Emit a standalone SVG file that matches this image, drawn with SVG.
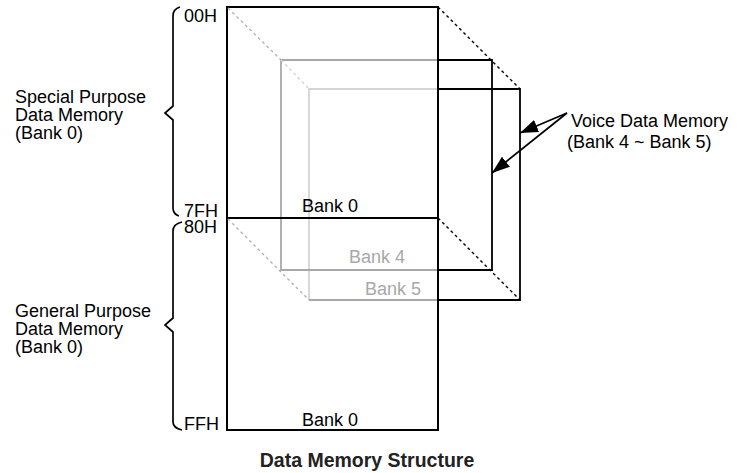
<svg xmlns="http://www.w3.org/2000/svg" width="737" height="473" viewBox="0 0 737 473">
  <style>
    text { font-family: "Liberation Sans", Arial, sans-serif; font-size: 18px; fill: #000; }
    .title { font-weight: bold; font-size: 19.5px; fill: #222; }
    .dim { fill: #a8a8a8; }
    .frame { fill: none; stroke: #000; stroke-width: 2; }
    .blk { fill: none; stroke: #000; stroke-width: 1.8; }
    .g4 { fill: none; stroke: #a8a8a8; stroke-width: 1.8; }
    .g5 { fill: none; stroke: #d4d4d4; stroke-width: 1.8; }
    .dotb { fill: none; stroke: #000; stroke-width: 1.4; stroke-dasharray: 3 3; }
    .dotg { fill: none; stroke: #b4b4b4; stroke-width: 1.4; stroke-dasharray: 3 3; }
    .brace { fill: none; stroke: #000; stroke-width: 1.7; stroke-linejoin: miter; }
    .arrow { fill: none; stroke: #000; stroke-width: 1.7; }
  </style>
  <defs>
    <marker id="head" viewBox="0 0 18 13" refX="18" refY="6.5" markerWidth="18" markerHeight="13" markerUnits="userSpaceOnUse" orient="auto">
      <path d="M0,0 L18,6.5 L0,13 Z" fill="#000"/>
    </marker>
  </defs>

  <!-- Bank 5 (rear layer) -->
  <g id="bank5">
    <path class="g5" d="M438,89 H309 V300"/>
    <path class="g4" d="M309,300 H438"/>
    <path class="blk" d="M438,89 H520 V300 H438"/>
    <text class="dim" x="365" y="295">Bank 5</text>
  </g>

  <!-- Bank 4 (middle layer) -->
  <g id="bank4">
    <path class="g4" d="M438,60 H281 V270 H438"/>
    <path class="blk" d="M438,60 H492 V270 H438"/>
    <text class="dim" x="349" y="263">Bank 4</text>
  </g>

  <!-- Bank 0 (front frame) -->
  <g id="bank0">
    <rect class="frame" x="227" y="7" width="211" height="423"/>
    <line class="frame" x1="227" y1="218" x2="438" y2="218"/>
    <text x="302" y="212">Bank 0</text>
    <text x="302" y="426">Bank 0</text>
  </g>

  <!-- address labels -->
  <g id="addresses">
    <text x="184" y="22">00H</text>
    <text x="184" y="217">7FH</text>
    <text x="184" y="233">80H</text>
    <text x="184" y="430">FFH</text>
  </g>

  <!-- region braces and captions -->
  <g id="special-purpose">
    <path class="brace" d="M180,7 Q173,9 173,16 V106 L165,113 L173,120 V208 Q173,214 179,216"/>
    <text x="15" y="103">Special Purpose</text>
    <text x="15" y="121">Data Memory</text>
    <text x="15" y="139">(Bank 0)</text>
  </g>
  <g id="general-purpose">
    <path class="brace" d="M182,222 Q173,224 173,231 V318 L165,325 L173,332 V422 Q173,428 182,430"/>
    <text x="15" y="317">General Purpose</text>
    <text x="15" y="335">Data Memory</text>
    <text x="15" y="353">(Bank 0)</text>
  </g>

  <g id="voice-label">
    <text x="571" y="127">Voice Data Memory</text>
    <text x="567" y="148">(Bank 4 ~ Bank 5)</text>
  </g>

  <!-- depth edges and pointer arrows -->
  <g id="connectors">
    <line class="dotg" x1="228" y1="8" x2="281" y2="60"/>
    <line class="dotg" x1="281" y1="60" x2="309" y2="89" style="stroke:#d4d4d4"/>
    <line class="dotg" x1="228" y1="219" x2="309" y2="300"/>
    <line class="dotb" x1="438" y1="7" x2="520" y2="89"/>
    <line class="dotb" x1="438" y1="218" x2="520" y2="300"/>
    <line class="arrow" x1="567" y1="113" x2="520" y2="133" marker-end="url(#head)"/>
    <line class="arrow" x1="567" y1="113" x2="492" y2="173" marker-end="url(#head)"/>
  </g>

  <text class="title" x="367" y="467" text-anchor="middle">Data Memory Structure</text>
</svg>
